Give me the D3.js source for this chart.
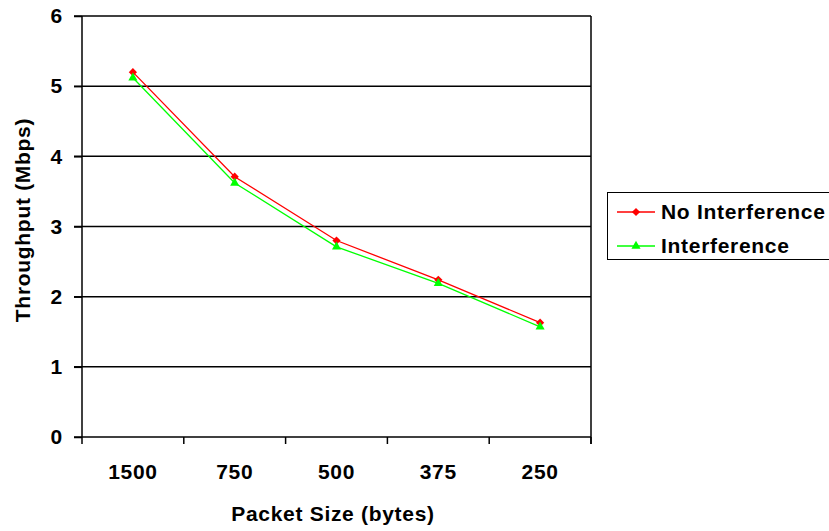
<!DOCTYPE html>
<html>
<head>
<meta charset="utf-8">
<script src="https://cdn.jsdelivr.net/npm/d3@7"></script>
<style>
  html, body { margin: 0; padding: 0; background: #fff; }
  svg text { font-family: "Liberation Sans", Arial, sans-serif; font-weight: bold; fill: #000; letter-spacing: 0.7px; }
</style>
</head>
<body>
<svg id="chart" width="829" height="531"></svg>
<script>
// Packet sizes on the x axis (categorical, largest first)
const packetSizes = ["1500", "750", "500", "375", "250"];
// Throughput in Mbps for each packet size
const noInterference = [5.2, 3.71, 2.8, 2.24, 1.63];
const interference = [5.12, 3.62, 2.71, 2.19, 1.57];
const yTicks = [0, 1, 2, 3, 4, 5, 6];

// Diamond drawn as a square turned 45 degrees
const diamond = {
  draw(context, size) {
    const r = Math.sqrt(size / 2);
    context.moveTo(0, -r); context.lineTo(r, 0); context.lineTo(0, r); context.lineTo(-r, 0); context.closePath();
  }
};

const series = [
  { name: "No Interference", values: noInterference, color: "#ff0000", symbol: diamond, size: 34 },
  { name: "Interference", values: interference, color: "#00ff00", symbol: d3.symbolTriangle, size: 36 }
];

const svg = d3.select("#chart");
const plotLeft = 82, plotRight = 591, plotTop = 16, plotBottom = 437;

const x = d3.scaleBand().domain(packetSizes).range([plotLeft, plotRight]);
const y = d3.scaleLinear().domain([0, 6]).range([plotBottom, plotTop]);

// Horizontal gridlines (extend into the tick area on the left)
svg.append("g").selectAll("line").data(yTicks.filter(t => t > 0)).join("line")
  .attr("x1", plotLeft - 8).attr("x2", plotRight)
  .attr("y1", d => y(d)).attr("y2", d => y(d))
  .attr("stroke", "#000").attr("stroke-width", 1.5);

// Right border of the plot area
svg.append("line").attr("x1", plotRight).attr("x2", plotRight).attr("y1", plotTop).attr("y2", plotBottom + 7)
  .attr("stroke", "#000").attr("stroke-width", 1.5);

// Y axis
const yAxis = svg.append("g").attr("transform", `translate(${plotLeft},0)`)
  .call(d3.axisLeft(y).tickValues(yTicks).tickSize(8).tickPadding(11).tickFormat(d3.format("d")));
yAxis.select(".domain").attr("stroke-width", 1.5).attr("d", `M0,${plotTop}V${plotBottom}`);
yAxis.selectAll(".tick line").attr("stroke-width", 1.5);
yAxis.selectAll("text").attr("font-size", 21);

// X axis with ticks between categories
const xAxis = svg.append("g").attr("transform", `translate(0,${plotBottom})`);
xAxis.append("line").attr("x1", plotLeft - 8).attr("x2", plotRight).attr("stroke", "#000").attr("stroke-width", 1.5);
const boundaries = packetSizes.map(d => x(d)).concat([plotRight]);
xAxis.selectAll("line.tk").data(boundaries).join("line").attr("class", "tk")
  .attr("x1", d => d).attr("x2", d => d).attr("y1", 0).attr("y2", 7)
  .attr("stroke", "#000").attr("stroke-width", 1.5);
xAxis.selectAll("text").data(packetSizes).join("text")
  .attr("x", d => x(d) + x.bandwidth() / 2).attr("y", 42)
  .attr("text-anchor", "middle").attr("font-size", 21).text(d => d);

// Axis titles
svg.append("text").attr("x", 333).attr("y", 521)
  .attr("text-anchor", "middle").attr("font-size", 21).text("Packet Size (bytes)");
svg.append("text").attr("transform", "translate(30,220) rotate(-90)")
  .attr("text-anchor", "middle").attr("font-size", 21).text("Throughput (Mbps)");

// Series lines and markers
const line = d3.line().x((d, i) => x(packetSizes[i]) + x.bandwidth() / 2).y(d => y(d));
series.forEach(s => {
  svg.append("path").datum(s.values).attr("d", line)
    .attr("fill", "none").attr("stroke", s.color).attr("stroke-width", 1.3);
  svg.append("g").selectAll("path").data(s.values).join("path")
    .attr("transform", (d, i) => `translate(${x(packetSizes[i]) + x.bandwidth() / 2},${y(d)})`)
    .attr("d", d3.symbol().type(s.symbol).size(s.size))
    .attr("fill", s.color);
});

// Legend
const legend = svg.append("g");
legend.append("rect").attr("x", 607.5).attr("y", 192.5).attr("width", 240).attr("height", 67)
  .attr("fill", "#fff").attr("stroke", "#000").attr("stroke-width", 1);
series.forEach((s, i) => {
  const ly = 212 + i * 34;
  legend.append("line").attr("x1", 617).attr("x2", 655).attr("y1", ly).attr("y2", ly)
    .attr("stroke", s.color).attr("stroke-width", 1.3);
  legend.append("path").attr("transform", `translate(636,${ly})`)
    .attr("d", d3.symbol().type(s.symbol).size(s.size)).attr("fill", s.color);
  legend.append("text").attr("x", 661).attr("y", ly + 7).attr("font-size", 21).text(s.name);
});
</script>
</body>
</html>
